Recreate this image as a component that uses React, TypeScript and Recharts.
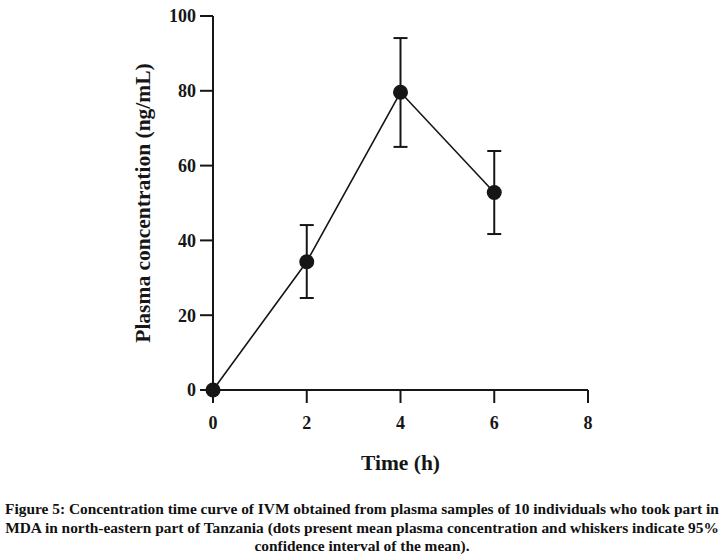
import React from "react";
import {
  LineChart,
  Line,
  XAxis,
  YAxis,
  ErrorBar,
  Label,
} from "recharts";

const timeHours = [0, 2, 4, 6];
const meanConc = [0, 34.3, 79.6, 52.8];
const ciLower = [0, 24.6, 65.0, 41.7];
const ciUpper = [0, 44.1, 94.1, 63.9];

const xTicks = [0, 2, 4, 6, 8];
const yTicks = [0, 20, 40, 60, 80, 100];

const captionLines = [
  "Figure 5: Concentration time curve of IVM obtained from plasma samples of 10 individuals who took part in",
  "MDA in north-eastern part of Tanzania (dots present mean plasma concentration and whiskers indicate 95%",
  "confidence interval of the mean).",
];

const ink = "#161616";
const serif = "'Liberation Serif', 'Times New Roman', serif";

const data = timeHours.map((t, i) => ({
  time: t,
  conc: meanConc[i],
  ci: [meanConc[i] - ciLower[i], ciUpper[i] - meanConc[i]],
}));

const tickStyle = { fill: ink, fontSize: 18, fontWeight: 700, fontFamily: serif };

const App = () => {
  return (
    <div style={{ position: "absolute", left: 0, top: 0, width: 724, height: 557, background: "#fff" }}>
      <LineChart
        width={724}
        height={480}
        data={data}
        margin={{ top: 16, right: 136, bottom: 0, left: 120 }}
      >
        <XAxis
          dataKey="time"
          type="number"
          domain={[0, 8]}
          ticks={xTicks}
          stroke={ink}
          strokeWidth={2}
          tickSize={13}
          tickMargin={13}
          tick={tickStyle}
          height={90}
        >
          <Label
            value="Time (h)"
            position="insideBottom"
            offset={10}
            style={{ fill: ink, fontSize: 21.5, fontWeight: 700, fontFamily: serif }}
          />
        </XAxis>
        <YAxis
          type="number"
          domain={[0, 100]}
          ticks={yTicks}
          stroke={ink}
          strokeWidth={2}
          tickSize={13}
          tickMargin={4}
          tick={tickStyle}
          width={93}
        >
          <Label
            value="Plasma concentration (ng/mL)"
            angle={-90}
            position="center"
            dx={-24}
            style={{ fill: ink, fontSize: 21.5, fontWeight: 700, fontFamily: serif, textAnchor: "middle" }}
          />
        </YAxis>
        <Line
          dataKey="conc"
          stroke={ink}
          strokeWidth={1.6}
          dot={{ r: 7.5, fill: ink, stroke: ink, strokeWidth: 0 }}
          isAnimationActive={false}
        >
          <ErrorBar dataKey="ci" width={7} stroke={ink} strokeWidth={2} direction="y" />
        </Line>
      </LineChart>
      <div
        style={{
          position: "absolute",
          left: 0,
          top: 500,
          width: 724,
          textAlign: "center",
          fontFamily: serif,
          fontWeight: 700,
          fontSize: 15.4,
          lineHeight: "18.5px",
          color: "#111",
          whiteSpace: "nowrap",
        }}
      >
        {captionLines.map((line, i) => (
          <div key={i}>{line}</div>
        ))}
      </div>
    </div>
  );
};

export default App;
